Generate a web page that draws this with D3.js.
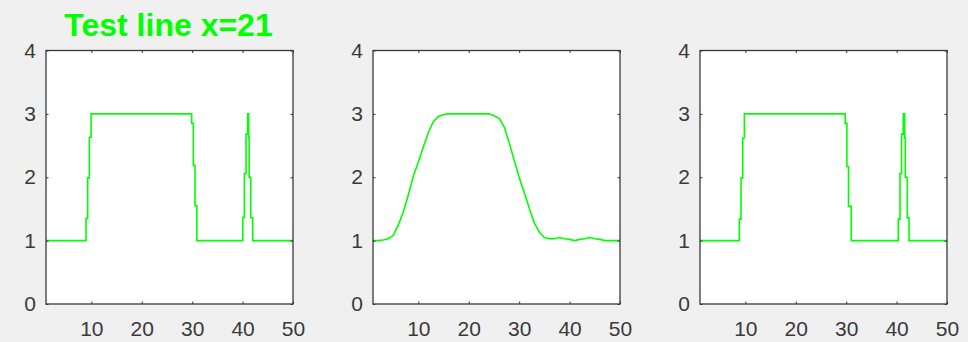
<!DOCTYPE html>
<html>
<head>
<meta charset="utf-8">
<script src="https://cdn.jsdelivr.net/npm/d3@7"></script>
<style>
  html, body { margin: 0; padding: 0; background: #f0f0f0; }
  svg { display: block; }
</style>
</head>
<body>
<div id="chart"></div>
<script>
const titleText = 'Test line x=21';
const xTicks = [10, 20, 30, 40, 50];
const yTicks = [0, 1, 2, 3, 4];

// left panel: sharp profile, each value holds until the next x
const leftX = [1, 8.94, 9.27, 9.6, 9.95, 29.9, 30.23, 30.56, 30.93, 40.05, 40.35, 40.68, 41.0, 41.2, 41.3, 41.62, 42.0, 50];
const leftY = [1, 1.35, 1.99, 2.63, 3, 2.85, 2.19, 1.55, 1, 1.37, 2.06, 2.68, 3, 2.63, 2.0, 1.36, 1, 1];

// middle panel: smoothed profile, one value per x = 1..50
const midY = [1.0, 1.0, 1.01, 1.03, 1.08, 1.24, 1.45, 1.72, 2.02, 2.24,
              2.48, 2.71, 2.88, 2.96, 2.99, 3.0, 3.0, 3.0, 3.0, 3.0,
              3.0, 3.0, 3.0, 3.0, 2.97, 2.93, 2.8, 2.55, 2.27, 2.0,
              1.76, 1.51, 1.28, 1.13, 1.05, 1.03, 1.03, 1.05, 1.03, 1.02,
              1.0, 1.02, 1.03, 1.05, 1.03, 1.02, 1.0, 1.0, 1.0, 1.0];

// right panel: sharp profile again
const rightX = [1, 8.81, 9.14, 9.48, 9.8, 29.8, 30.14, 30.46, 31.0, 40.33, 40.67, 40.99, 41.33, 41.6, 41.73, 42.13, 42.47, 50];
const rightY = [1, 1.34, 1.99, 2.62, 3, 2.85, 2.17, 1.54, 1, 1.34, 2.06, 2.68, 3, 2.62, 2.0, 1.36, 1, 1];

const width = 968, height = 342;
const plotW = 247, plotTop = 50.5, plotBottom = 304;
const font = '"Liberation Sans", Arial, Helvetica, sans-serif';

const svg = d3.select('#chart').append('svg')
    .attr('width', width)
    .attr('height', height);

const panels = [
    { left: 46, points: leftX.map((x, i) => [x, leftY[i]]), curve: d3.curveStepAfter },
    { left: 373, points: midY.map((y, i) => [i + 1, y]), curve: d3.curveLinear },
    { left: 700, points: rightX.map((x, i) => [x, rightY[i]]), curve: d3.curveStepAfter },
];

panels.forEach((p, idx) => {
    const x = d3.scaleLinear().domain([1, 50]).range([p.left, p.left + plotW]);
    const y = d3.scaleLinear().domain([0, 4]).range([plotBottom, plotTop]);

    svg.append('rect')
        .attr('x', p.left).attr('y', plotTop)
        .attr('width', plotW).attr('height', plotBottom - plotTop)
        .attr('fill', '#fff');

    const clipId = 'clip' + idx;
    svg.append('clipPath').attr('id', clipId)
        .append('rect')
        .attr('x', p.left).attr('y', plotTop)
        .attr('width', plotW).attr('height', plotBottom - plotTop);

    const line = d3.line()
        .x(d => x(d[0]))
        .y(d => y(d[1]))
        .curve(p.curve);

    svg.append('path')
        .datum(p.points)
        .attr('clip-path', `url(#${clipId})`)
        .attr('fill', 'none')
        .attr('stroke', '#00ff00')
        .attr('stroke-width', 1.6)
        .attr('d', line);

    // axes, ticks pointing inwards like matlab
    const fmt = d3.format('d');
    const gx = svg.append('g')
        .attr('transform', `translate(0,${plotBottom})`)
        .call(d3.axisBottom(x).tickValues(xTicks).tickFormat(fmt).tickSizeInner(-2.5).tickSizeOuter(0).tickPadding(17));
    const gy = svg.append('g')
        .attr('transform', `translate(${p.left},0)`)
        .call(d3.axisLeft(y).tickValues(yTicks).tickFormat(fmt).tickSizeInner(-2.5).tickSizeOuter(0).tickPadding(10));
    const gr = svg.append('g')
        .attr('transform', `translate(${p.left + plotW},0)`)
        .call(d3.axisRight(y).tickValues(yTicks).tickSizeInner(-2.5).tickSizeOuter(0).tickFormat(''));
    const gt = svg.append('g')
        .attr('transform', `translate(0,${plotTop})`)
        .call(d3.axisTop(x).tickValues(xTicks).tickSizeInner(-2.5).tickSizeOuter(0).tickFormat(''));

    [gx, gy, gr, gt].forEach(g => {
        g.select('.domain').remove();
        g.selectAll('line').attr('stroke', '#333');
        g.selectAll('text')
            .attr('fill', '#3a3a3a')
            .style('font-family', font)
            .style('font-size', '21px');
    });

    svg.append('rect')
        .attr('x', p.left).attr('y', plotTop)
        .attr('width', plotW).attr('height', plotBottom - plotTop)
        .attr('fill', 'none')
        .attr('stroke', '#3a3a3a')
        .attr('stroke-width', 1.3);
});

svg.append('text')
    .attr('x', 168.5)
    .attr('y', 36)
    .attr('text-anchor', 'middle')
    .style('font-family', font)
    .style('font-size', '32px')
    .style('font-weight', 'bold')
    .attr('fill', '#00ff00')
    .text(titleText);
</script>
</body>
</html>
